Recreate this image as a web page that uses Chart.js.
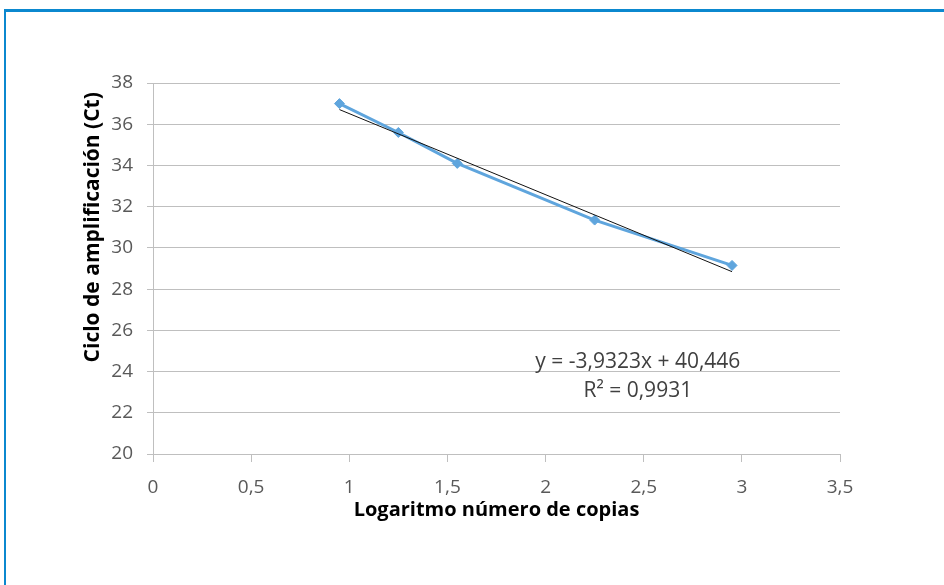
<!DOCTYPE html>
<html>
<head>
<meta charset="utf-8">
<script src="https://cdn.jsdelivr.net/npm/chart.js@4.4.1/dist/chart.umd.min.js"></script>
<style>
  html, body { margin: 0; padding: 0; background: #fff; }
  #wrap { position: relative; width: 944px; height: 585px; overflow: hidden; }
  #frame {
    position: absolute; left: 4px; top: 9px; width: 1000px; height: 700px;
    border-top: 3px solid #0b88cf; border-left: 2px solid #0b88cf;
  }
  canvas { position: absolute; left: 0; top: 0; }
</style>
</head>
<body>
<div id="wrap">
  <div id="frame"></div>
  <canvas id="chart" width="944" height="585"></canvas>
</div>
<script>
// ===== Datos =====
const logCopias = [0.95, 1.25, 1.55, 2.25, 2.95];
const cicloCt = [37.0, 35.6, 34.1, 31.35, 29.15];

const pendiente = -3.9323;
const intercepto = 40.446;
const ecuacionTexto = "y = -3,9323x + 40,446";
const r2Texto = "R\u00B2 = 0,9931";
const tituloY = "Ciclo de amplificación (Ct)";
const tituloX = "Logaritmo número de copias";

const xTicks = [0, 0.5, 1, 1.5, 2, 2.5, 3, 3.5];
const yTicks = [20, 22, 24, 26, 28, 30, 32, 34, 36, 38];

// ===== Linea de tendencia (de la ecuacion) =====
const tendX = [logCopias[0], logCopias[logCopias.length - 1]];
const tendencia = tendX.map(x => ({ x, y: pendiente * x + intercepto }));

const puntos = logCopias.map((x, i) => ({ x, y: cicloCt[i] }));

const FONT = "'Open Sans', 'DejaVu Sans', sans-serif";

// ===== Texto de la ecuacion + titulo del eje Y =====
const eqPlugin = {
  id: "ecuacion",
  afterDatasetsDraw(chart) {
    const { ctx, scales } = chart;
    const cx = scales.x.getPixelForValue(2.47);
    ctx.save();
    ctx.fillStyle = "#404040";
    ctx.font = "21px " + FONT;
    ctx.textAlign = "center";
    ctx.textBaseline = "middle";
    ctx.fillText(ecuacionTexto, cx, scales.y.getPixelForValue(24.45));
    ctx.fillText(r2Texto, cx, scales.y.getPixelForValue(23.05));
    ctx.restore();

    // titulo vertical, un poco por encima del centro como en Excel
    ctx.save();
    ctx.translate(scales.y.left + 15, scales.y.getPixelForValue(31));
    ctx.rotate(-Math.PI / 2);
    ctx.fillStyle = "#000";
    ctx.font = "bold 21px " + FONT;
    ctx.textAlign = "center";
    ctx.textBaseline = "middle";
    ctx.fillText(tituloY, 0, 0);
    ctx.restore();
  }
};

new Chart(document.getElementById("chart"), {
  type: "scatter",
  data: {
    datasets: [
      {
        label: "Tendencia",
        data: tendencia,
        showLine: true,
        borderColor: "#111",
        borderWidth: 1,
        pointRadius: 0,
        order: 0
      },
      {
        label: "Ct",
        data: puntos,
        showLine: true,
        borderColor: "#5fa5dd",
        backgroundColor: "#5fa5dd",
        borderWidth: 3,
        pointStyle: "rectRot",
        pointRadius: 5,
        pointBorderWidth: 1,
        order: 1
      }
    ]
  },
  options: {
    responsive: false,
    animation: false,
    layout: { padding: { left: 78, right: 104, top: 83, bottom: 66 } },
    plugins: { legend: { display: false }, tooltip: { enabled: false } },
    scales: {
      x: {
        type: "linear",
        min: 0, max: 3.5,
        afterBuildTicks: s => { s.ticks = xTicks.map(v => ({ value: v })); },
        afterFit: s => { s.height = 65; },
        border: { color: "#bfbfbf", width: 1 },
        grid: { drawOnChartArea: false, color: "#bfbfbf", tickLength: 8 },
        ticks: {
          color: "#595959", padding: 14, maxRotation: 0,
          font: { family: FONT, size: 19 },
          callback: v => String(v).replace(".", ",")
        },
        title: {
          display: true, text: tituloX, color: "#000",
          font: { family: FONT, size: 20, weight: "bold" }, padding: { top: 0, bottom: -3 }
        }
      },
      y: {
        type: "linear",
        min: 20, max: 38,
        afterBuildTicks: s => { s.ticks = yTicks.map(v => ({ value: v })); },
        afterFit: s => { s.width = 75; },
        border: { color: "#bfbfbf", width: 1 },
        grid: { color: "#bfbfbf", tickLength: 6 },
        ticks: {
          color: "#595959", padding: 14,
          font: { family: FONT, size: 19 }
        }
      }
    }
  },
  plugins: [eqPlugin]
});
</script>
</body>
</html>
